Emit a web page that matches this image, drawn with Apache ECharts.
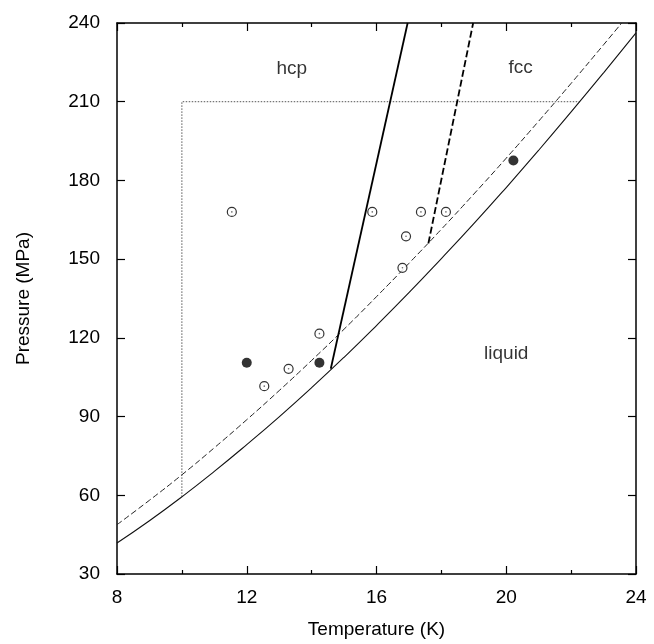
<!DOCTYPE html>
<html>
<head>
<meta charset="utf-8">
<script src="https://cdn.jsdelivr.net/npm/echarts@6/dist/echarts.min.js"></script>
<style>html,body{margin:0;padding:0;background:#fff}#c{width:654px;height:644px}</style>
</head>
<body>
<div id="c"></div>
<script>
// Melting curve (solid, lower) [T (K), P (MPa)]
var meltSolid = [[8,41.8],[9,50.3],[10,59.4],[11,69.1],[12,79.3],[13,89.9],[14,101.0],[15,112.6],[16,124.7],[17,137.2],[18,150.2],[19,163.5],[20,177.3],[21,191.5],[22,206.1],[23,221.0],[24,236.2]];
// Melting curve (dashed, upper)
var meltDashed = [[8,48.8],[9,58.1],[10,67.8],[11,78.1],[12,88.8],[13,99.9],[14,111.4],[15,123.3],[16,135.7],[17,148.4],[18,161.4],[19,174.8],[20,188.5],[21,202.6],[22,217.0],[23,231.7],[23.56,240]];
// hcp boundary (thick solid)
var hcpLine = [[14.59,108.2],[16.96,240]];
// fcc boundary (thick dashed)
var fccLine = [[17.6,156],[18.98,240]];
// dotted region outline
var dottedBox = [[10,59.4],[10,210],[22.27,210]];
// open circles
var openPts = [[11.54,168],[15.87,168],[17.37,168],[18.14,168],[16.91,158.7],[16.8,146.7],[14.24,121.6],[13.29,108.2],[12.54,101.6]];
// filled circles
var filledPts = [[12.0,110.5],[14.24,110.5],[20.22,187.6]];
// phase labels
var phaseLabels = [[13.39,222.7,'hcp'],[20.44,223,'fcc'],[20.0,114,'liquid']];
var xTicks = [8,12,16,20,24];
var yTicks = [30,60,90,120,150,180,210,240];

var FONT = '"Liberation Sans", Arial, Helvetica, sans-serif';
var chart = echarts.init(document.getElementById('c'), null, {renderer:'canvas'});
function axisBase(extra){
  return Object.assign({
    axisLine:{show:true,onZero:false,lineStyle:{color:'#000',width:1.5}},
    axisTick:{show:true,inside:true,length:8,lineStyle:{color:'#000',width:1.2}},
    splitLine:{show:false}
  }, extra);
}
var option = {
  animation:false,
  backgroundColor:'#fff',
  grid:{left:117,top:23,right:18,bottom:69,containLabel:false},
  xAxis:[
    axisBase({type:'value',position:'bottom',min:8,max:24,interval:4,
      minorTick:{show:true,splitNumber:2,length:4,lineStyle:{color:'#000',width:1.2}},
      axisLabel:{color:'#000',fontSize:19,fontFamily:FONT,margin:14,
        formatter:function(v){return xTicks.indexOf(v)>=0?String(v):'';}},
      name:'Temperature (K)',nameLocation:'middle',nameGap:46,
      nameTextStyle:{color:'#000',fontSize:19,fontFamily:FONT}}),
    axisBase({type:'value',position:'top',min:8,max:24,interval:4,
      minorTick:{show:true,splitNumber:2,length:4,lineStyle:{color:'#000',width:1.2}},
      axisLabel:{show:false}})
  ],
  yAxis:[
    axisBase({type:'value',position:'left',min:30,max:240,interval:30,
      axisLabel:{color:'#000',fontSize:19,fontFamily:FONT,margin:17,
        formatter:function(v){return yTicks.indexOf(v)>=0?String(v):'';}},
      name:'Pressure (MPa)',nameLocation:'middle',nameGap:84,nameRotate:90,
      nameTextStyle:{color:'#000',fontSize:19,fontFamily:FONT}}),
    axisBase({type:'value',position:'right',min:30,max:240,interval:30,axisLabel:{show:false}})
  ],
  series:[
    {type:'line',data:dottedBox,showSymbol:false,lineStyle:{color:'#555',width:1,type:[1.5,1.5]},z:1},
    {type:'line',data:meltSolid,smooth:true,showSymbol:false,lineStyle:{color:'#111',width:1.1},z:2},
    {type:'line',data:meltDashed,smooth:true,showSymbol:false,lineStyle:{color:'#222',width:1,type:[6,3]},z:2},
    {type:'line',data:hcpLine,showSymbol:false,lineStyle:{color:'#000',width:1.8},z:3},
    {type:'line',data:fccLine,showSymbol:false,lineStyle:{color:'#000',width:1.8,type:[7,3]},z:3},
    {type:'scatter',data:openPts,symbol:'circle',symbolSize:9,
      itemStyle:{color:'#fff',borderColor:'#000',borderWidth:1.2},z:5},
    {type:'scatter',data:openPts,symbol:'circle',symbolSize:1.6,
      itemStyle:{color:'#444'},z:6},
    {type:'scatter',data:filledPts,symbol:'circle',symbolSize:10,
      itemStyle:{color:'#000'},z:5},
    {type:'scatter',data:phaseLabels,symbolSize:0,z:7,
      label:{show:true,position:'inside',formatter:function(p){return p.data[2];},
        color:'#000',fontSize:19,fontFamily:FONT}}
  ]
};
chart.setOption(option);
</script>
</body>
</html>
